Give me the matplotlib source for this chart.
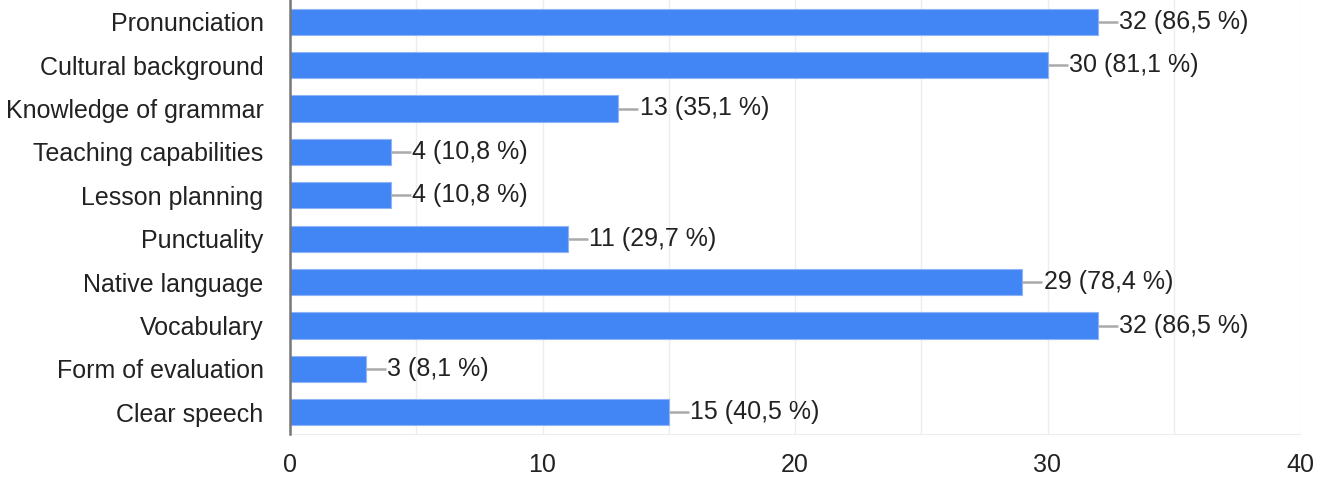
import numpy as np
import matplotlib.pyplot as plt

plt.rcParams['font.family'] = ['Liberation Sans', 'DejaVu Sans']

labels = ['Pronunciation', 'Cultural background', 'Knowledge of grammar',
          'Teaching capabilities', 'Lesson planning', 'Punctuality',
          'Native language', 'Vocabulary', 'Form of evaluation', 'Clear speech']
counts = [32, 30, 13, 4, 4, 11, 29, 32, 3, 15]
percents = ['86,5', '81,1', '35,1', '10,8', '10,8', '29,7', '78,4', '86,5', '8,1', '40,5']
xticks = [0, 10, 20, 30, 40]

fig = plt.figure(figsize=(13.21, 4.83), dpi=100)
ax = fig.add_axes([290 / 1321, 49 / 483, 1010 / 1321, 434 / 483])

y = np.arange(len(labels))
ax.barh(y, counts, height=0.6, color='#4285f4', edgecolor='#8fb4f7', linewidth=0.8, zorder=3)

for yi, c, p in zip(y, counts, percents):
    ax.plot([c, c + 0.8], [yi, yi], color='#aaaaaa', lw=1.8, zorder=3, solid_capstyle='butt')
    ax.text(c + 0.85, yi, f'{c} ({p} %)', va='center', ha='left', fontsize=18, color='#222222')

ax.set_xlim(0, 40)
ax.set_ylim(len(labels) - 0.5, -0.5)
ax.set_xticks(xticks)
ax.set_xticks(np.arange(0, 41, 5), minor=True)
ax.set_yticks(y)
ax.set_yticklabels(labels)
ax.grid(axis='x', which='both', color='#ededed', lw=1, zorder=0)
ax.tick_params(axis='both', length=0, labelsize=18, labelcolor='#222222')
ax.tick_params(axis='y', pad=19)
ax.tick_params(axis='x', pad=14)
ax.tick_params(which='minor', length=0)

for s in ['top', 'right']:
    ax.spines[s].set_visible(False)
ax.spines['bottom'].set_color('#ededed')
ax.spines['left'].set_color('#777777')
ax.spines['left'].set_linewidth(1.8)
ax.spines['left'].set_zorder(4)

fig.savefig('out.png', dpi=100)
